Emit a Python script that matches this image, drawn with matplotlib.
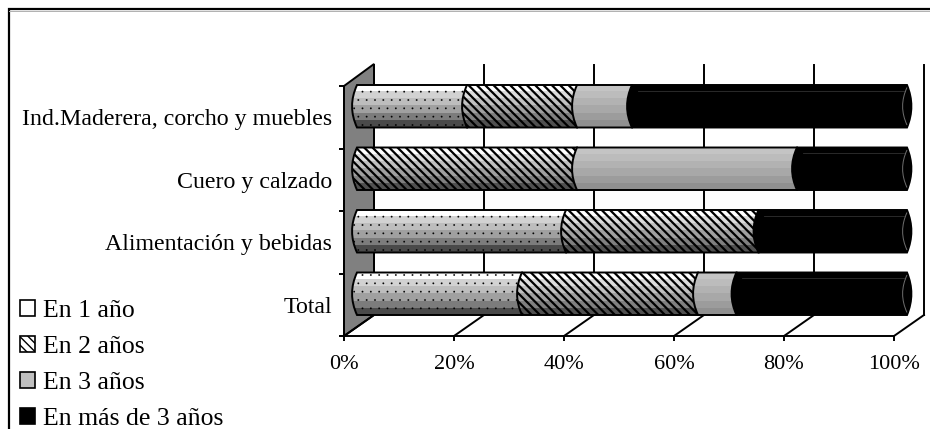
import matplotlib
matplotlib.use('Agg')
import matplotlib.pyplot as plt
import numpy as np
from matplotlib.patches import PathPatch, Polygon, Rectangle
from matplotlib.path import Path

plt.rcParams['font.family'] = ['Liberation Serif', 'DejaVu Serif']

categories = ['Ind.Maderera, corcho y muebles', 'Cuero y calzado',
              'Alimentación y bebidas', 'Total']
series_names = ['En 1 año', 'En 2 años', 'En 3 años', 'En más de 3 años']
en_1_ano = [20, 0, 38, 30]
en_2_anos = [20, 40, 35, 32]
en_3_anos = [10, 40, 0, 7]
en_mas_3 = [50, 20, 27, 31]
x_ticks = [0, 20, 40, 60, 80, 100]

W, H = 930, 429
series = [en_1_ano, en_2_anos, en_3_anos, en_mas_3]
hatches = ['..', '\\\\\\\\', None, None]
hatch_widths = [0.1, 1.6, 1.0, 1.0]
bands = [
    ['#ffffff', '#d2d2d2', '#bdbdbd', '#a0a0a0', '#7c7c7c', '#4a4a4a'],
    ['#ffffff', '#dcdcdc', '#c0c0c0', '#a0a0a0', '#808080', '#505050'],
    ['#c4c4c4', '#bcbcbc', '#b2b2b2', '#a8a8a8', '#9c9c9c', '#909090'],
    ['#000000', '#000000', '#000000', '#000000', '#000000', '#000000'],
]
legend_faces = ['white', 'white', '#c0c0c0', 'black']
legend_hatches = [None, '\\\\\\\\', None, None]


def px_axes(x0, y0, x1, y1):
    # axes from pixel box, y counted from the top
    return fig.add_axes([x0 / W, 1 - y1 / H, (x1 - x0) / W, (y1 - y0) / H])


def segment_path(left, right, y0, y1, last):
    ym = (y0 + y1) / 2
    verts = [(left, y0), (left - 1.8, ym), (left, y1), (right, y1)]
    codes = [Path.MOVETO, Path.CURVE3, Path.CURVE3, Path.LINETO]
    if last:
        verts += [(right + 1.6, ym), (right, y0)]
        codes += [Path.CURVE3, Path.CURVE3]
    else:
        verts.append((right, y0))
        codes.append(Path.LINETO)
    verts.append((left, y0))
    codes.append(Path.CLOSEPOLY)
    return Path(verts, codes)


fig = plt.figure(figsize=(W / 100, H / 100), dpi=100)

# Frame, wall, back grid and floor
bg = px_axes(0, 0, W, H)
bg.set_xlim(0, W)
bg.set_ylim(H, 0)
bg.axis('off')
bg.plot([9, 9, W], [H, 9, 9], color='black', lw=1.6, solid_joinstyle='miter')
bg.plot([9, W], [11, 11], color='#b0b0b0', lw=0.7)
bg.add_patch(Polygon([(344, 86), (374, 64), (374, 315), (344, 336)],
                     facecolor='#808080', edgecolor='black', lw=1.4))
for k in range(6):
    xb = 374 + 110 * k
    bg.plot([xb, xb], [65, 315], color='black', lw=1.4)
    bg.plot([344 + 110 * k, xb], [336, 315], color='black', lw=1.4)

# Front axis with the labels
front = px_axes(344, 86, 894, 336)
front.patch.set_visible(False)
front.set_xlim(0, 100)
front.set_ylim(4, 0)
front.spines['top'].set_visible(False)
front.spines['right'].set_visible(False)
front.spines['left'].set_linewidth(1.4)
front.spines['bottom'].set_linewidth(1.4)
front.set_xticks(x_ticks)
front.set_xticklabels(['%d%%' % t for t in x_ticks], fontsize=16)
front.set_yticks(range(5))
front.set_yticklabels([])
front.set_yticks(np.arange(4) + 0.5, categories, minor=True, fontsize=17.2)
front.tick_params(axis='both', which='major', length=3.5, width=1.4)
front.tick_params(axis='x', pad=10)
front.tick_params(axis='y', which='minor', length=0, pad=8.5)

# Bars
ax = px_axes(357, 75, 907, 325)
ax.patch.set_visible(False)
ax.axis('off')
ax.set_zorder(3)
bar_h = 0.68
for i in range(len(categories)):
    y0 = i + 0.5 - bar_h / 2
    y1 = i + 0.5 + bar_h / 2
    left = 0
    for s, values in enumerate(series):
        v = values[i]
        if v == 0:
            continue
        right = left + v
        last = s == len(series) - 1
        path = segment_path(left, right, y0, y1, last)
        z = 2 + s * 0.1
        patch = PathPatch(path, facecolor='none', edgecolor='none', zorder=z)
        ax.add_patch(patch)
        shade = np.array([[matplotlib.colors.to_rgb(c)] for c in bands[s]])
        im = ax.imshow(shade, extent=(left - 2, right + 2, y1, y0), aspect='auto',
                       interpolation='nearest', zorder=z + 0.01)
        im.set_clip_box(fig.bbox)
        im.set_clip_path(patch)
        if hatches[s]:
            plt.rcParams['hatch.linewidth'] = hatch_widths[s]
            ax.add_patch(PathPatch(path, facecolor='none', edgecolor='black',
                                   hatch=hatches[s], lw=0, zorder=z + 0.02,
                                   clip_on=False))
        ax.add_patch(PathPatch(path, facecolor='none', edgecolor='black',
                               lw=1.4, zorder=z + 0.03, clip_on=False))
        if last:
            # inner line of the cylinder cap and the faint top line
            ym = (y0 + y1) / 2
            ax.plot([left + 1, right - 0.6], [y0 + 0.09, y0 + 0.09],
                    color='#303030', lw=0.6, zorder=z + 0.04)
            cap = Path([(right, y0 + 0.04), (right - 1.6, ym), (right, y1 - 0.04)],
                       [Path.MOVETO, Path.CURVE3, Path.CURVE3])
            ax.add_patch(PathPatch(cap, facecolor='none', edgecolor='#707070',
                                   lw=0.7, zorder=z + 0.04, clip_on=False))
        left = right
ax.set_xlim(0, 100)
ax.set_ylim(4, 0)

# Legend
plt.rcParams['hatch.linewidth'] = 1.0
handles = [Rectangle((0, 0), 1, 1, facecolor=legend_faces[s], edgecolor='black',
                     hatch=legend_hatches[s], lw=1.2) for s in range(4)]
fig.legend(handles, series_names, loc='lower left',
           bbox_to_anchor=(16 / W, 1 - 434 / H), frameon=False, fontsize=18.5,
           handlelength=0.6, handleheight=0.6, handletextpad=0.3,
           labelspacing=0.54, borderpad=0.15, borderaxespad=0)

fig.savefig('out.png', dpi=100)
